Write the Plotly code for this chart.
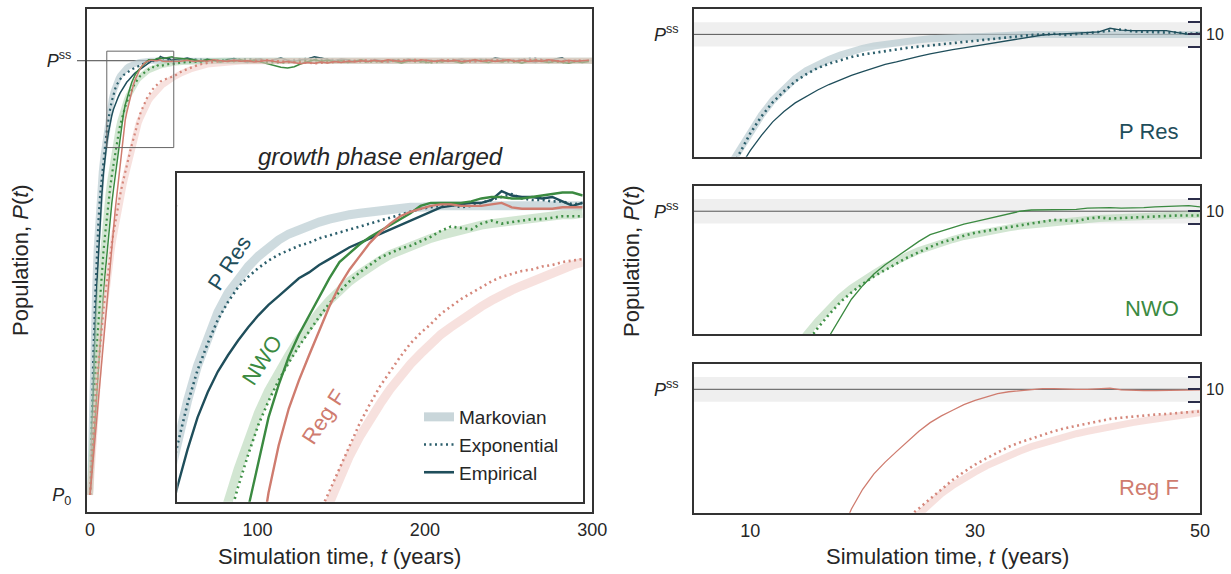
import plotly.graph_objects as go

# ---------------------------------------------------------------- data
PSS = 1.0      # steady-state population (normalised)
P0 = 0.0       # initial population (normalised)
BAND = 0.02    # tolerance band around P^ss (right panels)

SERIES = ["P Res", "NWO", "Reg F"]

T_GROW = list(range(0, 51))                 # yearly, growth phase
T_TAIL_E = list(range(54, 300, 4))          # empirical tail
T_TAIL_X = list(range(55, 300, 10))         # exponential-model tail
T_TAIL_M = [55, 60, 70, 80, 90, 100, 120, 150, 200, 250, 300]  # Markovian tail

PRES_MARKOV = [0.000, 0.190, 0.350, 0.470, 0.570, 0.645, 0.700, 0.745, 0.780, 0.810,
               0.840, 0.868, 0.892, 0.912, 0.928, 0.941, 0.951, 0.959, 0.966, 0.972,
               0.977, 0.981, 0.984, 0.987, 0.989, 0.991, 0.993, 0.994, 0.995, 0.996,
               0.997, 0.998, 0.998, 0.999, 0.999, 1.000, 1.000, 1.000, 1.000, 1.000,
               1.000, 1.000, 1.000, 1.000, 1.000, 1.000, 1.000, 1.000, 1.000, 1.000,
               1.000]
PRES_EXP = [0.000, 0.180, 0.330, 0.450, 0.550, 0.630, 0.690, 0.735, 0.770, 0.805,
            0.838, 0.866, 0.889, 0.907, 0.923, 0.935, 0.945, 0.952, 0.958, 0.963,
            0.967, 0.970, 0.973, 0.975, 0.978, 0.980, 0.982, 0.984, 0.986, 0.988,
            0.990, 0.992, 0.994, 0.996, 0.998, 0.999, 1.000, 1.001, 0.999, 1.000,
            1.002, 1.004, 1.006, 1.008, 1.005, 1.004, 1.004, 1.003, 1.003, 1.001,
            1.002]
PRES_EMP = [0.000, 0.140, 0.270, 0.380, 0.480, 0.560, 0.630, 0.690, 0.740, 0.780,
            0.810, 0.835, 0.857, 0.874, 0.888, 0.899, 0.909, 0.918, 0.926, 0.933,
            0.939, 0.945, 0.951, 0.955, 0.960, 0.964, 0.968, 0.972, 0.975, 0.978,
            0.981, 0.984, 0.987, 0.990, 0.993, 0.996, 0.999, 1.000, 1.001, 1.002,
            1.002, 1.004, 1.010, 1.007, 1.006, 1.006, 1.005, 1.006, 1.003, 1.000,
            1.002]

NWO_MARKOV = [0.000, 0.100, 0.190, 0.275, 0.350, 0.420, 0.480, 0.530, 0.580, 0.620,
              0.660, 0.692, 0.722, 0.750, 0.776, 0.800, 0.822, 0.842, 0.860, 0.875,
              0.888, 0.899, 0.910, 0.920, 0.928, 0.936, 0.943, 0.949, 0.954, 0.959,
              0.963, 0.967, 0.970, 0.973, 0.976, 0.978, 0.980, 0.982, 0.984, 0.986,
              0.987, 0.988, 0.989, 0.990, 0.991, 0.992, 0.993, 0.993, 0.994, 0.994,
              0.995]
NWO_EXP = [0.000, 0.090, 0.175, 0.255, 0.330, 0.395, 0.455, 0.510, 0.560, 0.600,
           0.640, 0.675, 0.707, 0.736, 0.762, 0.786, 0.810, 0.832, 0.852, 0.868,
           0.882, 0.894, 0.905, 0.915, 0.925, 0.934, 0.942, 0.949, 0.955, 0.960,
           0.965, 0.968, 0.971, 0.973, 0.976, 0.979, 0.983, 0.986, 0.985, 0.984,
           0.988, 0.990, 0.988, 0.989, 0.990, 0.991, 0.991, 0.992, 0.993, 0.993,
           0.993]
NWO_EMP = [0.000, 0.060, 0.120, 0.180, 0.240, 0.300, 0.355, 0.410, 0.460, 0.510,
           0.555, 0.598, 0.637, 0.672, 0.704, 0.735, 0.765, 0.795, 0.826, 0.857,
           0.879, 0.898, 0.913, 0.926, 0.939, 0.951, 0.962, 0.968, 0.974, 0.979,
           0.983, 0.987, 0.991, 0.995, 1.000, 1.002, 1.002, 1.002, 1.002, 1.003,
           1.005, 1.006, 1.006, 1.005, 1.005, 1.006, 1.007, 1.008, 1.009, 1.009,
           1.007]

REGF_MARKOV = [0.000, 0.065, 0.127, 0.186, 0.240, 0.290, 0.336, 0.377, 0.414, 0.449,
               0.481, 0.511, 0.540, 0.566, 0.591, 0.614, 0.636, 0.657, 0.677, 0.696,
               0.714, 0.731, 0.748, 0.764, 0.781, 0.799, 0.816, 0.831, 0.844, 0.856,
               0.866, 0.876, 0.885, 0.893, 0.900, 0.907, 0.913, 0.918, 0.923, 0.928,
               0.932, 0.936, 0.940, 0.943, 0.946, 0.949, 0.952, 0.955, 0.958, 0.960,
               0.962]
REGF_EXP = [0.000, 0.070, 0.135, 0.195, 0.250, 0.300, 0.345, 0.387, 0.425, 0.460,
            0.492, 0.522, 0.551, 0.578, 0.604, 0.628, 0.650, 0.671, 0.691, 0.710,
            0.728, 0.745, 0.761, 0.777, 0.792, 0.807, 0.822, 0.838, 0.853, 0.866,
            0.878, 0.888, 0.898, 0.907, 0.914, 0.920, 0.927, 0.932, 0.937, 0.941,
            0.945, 0.949, 0.952, 0.954, 0.956, 0.957, 0.959, 0.960, 0.962, 0.963,
            0.964]
REGF_EMP = [0.000, 0.040, 0.085, 0.130, 0.175, 0.220, 0.265, 0.310, 0.355, 0.400,
            0.445, 0.490, 0.535, 0.575, 0.615, 0.655, 0.690, 0.725, 0.763, 0.806,
            0.838, 0.863, 0.882, 0.899, 0.916, 0.932, 0.946, 0.957, 0.966, 0.975,
            0.982, 0.988, 0.993, 0.996, 0.998, 1.000, 1.001, 1.001, 1.000, 1.000,
            1.000, 1.001, 1.002, 0.999, 0.998, 0.998, 0.998, 0.998, 0.999, 0.999,
            0.999]

# tails (t > 50)
PRES_EMP_TAIL = [1.003, 1.006, 1.002, 0.998, 1.004, 1.001, 0.997, 1.003, 1.005, 1.000,
                 0.996, 1.002, 1.004, 0.999, 1.003, 1.006, 1.001, 0.998, 1.002, 1.004,
                 1.009, 1.006, 1.003, 1.000, 1.004, 1.002, 0.998, 1.001, 0.997, 1.003,
                 1.000, 0.996, 1.002, 0.999, 1.004, 1.001, 0.997, 1.002, 0.999, 1.003,
                 0.998, 1.001, 1.004, 1.000, 0.997, 1.003, 1.001, 1.006, 1.004, 1.002,
                 0.999, 1.003, 1.000, 0.996, 1.002, 0.999, 1.004, 1.007, 0.998, 1.001,
                 0.997, 1.002]
NWO_EMP_TAIL = [1.006, 1.004, 1.002, 0.999, 1.003, 1.000, 0.997, 1.001, 0.998, 1.002,
                0.999, 1.001, 0.997, 0.994, 0.990, 0.985, 0.983, 0.986, 0.993, 0.998,
                1.002, 0.999, 1.001, 0.997, 1.000, 0.996, 0.999, 1.002, 0.998, 1.000,
                0.997, 1.001, 0.998, 0.995, 0.999, 1.002, 0.998, 0.996, 1.000, 0.997,
                1.001, 0.998, 0.995, 0.999, 1.002, 0.998, 0.996, 1.000, 0.997, 1.001,
                0.998, 0.995, 0.999, 1.002, 0.998, 0.996, 0.999, 0.997, 0.994, 0.998,
                0.996, 0.998]
REGF_EMP_TAIL = [0.999, 1.001, 0.998, 1.000, 0.999, 1.002, 1.000, 0.998, 1.001, 0.999,
                 1.000, 0.997, 0.999, 1.001, 0.998, 0.996, 0.998, 0.995, 0.993, 0.996,
                 0.994, 0.997, 0.995, 0.998, 0.996, 0.999, 0.997, 1.000, 0.998, 1.001,
                 0.999, 1.002, 1.000, 0.998, 1.001, 0.999, 1.002, 1.000, 0.998, 1.001,
                 0.999, 1.001, 0.998, 1.000, 1.002, 0.999, 1.001, 0.998, 1.000, 1.002,
                 0.999, 1.001, 0.998, 1.000, 0.999, 1.002, 1.000, 0.998, 1.001, 0.999,
                 1.000, 1.001]
PRES_EXP_TAIL = [1.001, 1.003, 0.999, 1.002, 1.004, 1.000, 0.998, 1.003, 1.006, 1.002,
                 0.999, 1.001, 0.998, 1.002, 1.000, 0.997, 1.002, 1.001, 1.003, 0.999,
                 1.002, 1.005, 1.000, 0.998, 1.001]
NWO_EXP_TAIL = [0.996, 0.998, 1.000, 0.999, 1.001, 0.997, 0.995, 0.999, 1.001, 0.998,
                1.000, 0.997, 0.999, 1.001, 0.998, 0.996, 1.000, 0.998, 1.001, 0.999,
                0.997, 1.000, 0.998, 0.996, 0.999]
REGF_EXP_TAIL = [0.976, 0.991, 0.998, 1.000, 0.999, 1.001, 0.998, 0.996, 0.994, 0.997,
                 0.999, 1.001, 0.998, 1.000, 1.002, 0.999, 1.001, 0.998, 1.000, 1.001,
                 0.999, 1.002, 1.000, 0.998, 1.001]
PRES_MARKOV_TAIL = [1.000, 1.000, 1.000, 1.000, 1.000, 1.000, 1.000, 1.000, 1.000, 1.000, 1.000]
NWO_MARKOV_TAIL = [0.997, 0.998, 0.9995, 1.000, 1.000, 1.000, 1.000, 1.000, 1.000, 1.000, 1.000]
REGF_MARKOV_TAIL = [0.972, 0.980, 0.991, 0.996, 0.998, 0.999, 1.000, 1.000, 1.000, 1.000, 1.000]

MAIN_X_TICKS = [0, 100, 200, 300]
ZOOM_X_TICKS = [10, 30, 50]
BAND_LABEL = "10"

# ---------------------------------------------------------------- view / style
MAIN_T = [-2, 300]
MAIN_P = [-0.0385, 1.1184]
INSET_T = [10, 50]
INSET_P = [0.8, 1.022]
ZOOM_T = [5, 50]
ZOOM_P = [0.8, 1.041]

FONT = "Liberation Sans, Arial, sans-serif"
TXT = "#262626"
FRAME = "#333333"
COL = {"P Res": "#1f4e5b", "NWO": "#3b8a41", "Reg F": "#cf7c6f"}
DOT = {"P Res": "#2c5f6c", "NWO": "#3f9046", "Reg F": "#d5877b"}
LIGHT = {"P Res": "rgba(180,200,206,0.65)", "NWO": "rgba(180,214,180,0.6)",
         "Reg F": "rgba(240,200,194,0.55)"}

DATA = {
    "P Res": dict(m=(PRES_MARKOV, PRES_MARKOV_TAIL), x=(PRES_EXP, PRES_EXP_TAIL),
                  e=(PRES_EMP, PRES_EMP_TAIL)),
    "NWO": dict(m=(NWO_MARKOV, NWO_MARKOV_TAIL), x=(NWO_EXP, NWO_EXP_TAIL),
                e=(NWO_EMP, NWO_EMP_TAIL)),
    "Reg F": dict(m=(REGF_MARKOV, REGF_MARKOV_TAIL), x=(REGF_EXP, REGF_EXP_TAIL),
                  e=(REGF_EMP, REGF_EMP_TAIL)),
}
TAIL_T = {"m": T_TAIL_M, "x": T_TAIL_X, "e": T_TAIL_E}

for name, d in DATA.items():
    for k, (g, tl) in d.items():
        assert len(g) == len(T_GROW), (name, k, len(g))
        assert len(tl) == len(TAIL_T[k]), (name, k, len(tl))

fig = go.Figure()


def add_series(name, xa, ya, widths, full=True):
    d = DATA[name]
    for k in ["m", "x", "e"]:
        g, tl = d[k]
        t = T_GROW + (TAIL_T[k] if full else [])
        v = g + (tl if full else [])
        if k == "m":
            line = dict(color=LIGHT[name], width=widths[0])
        elif k == "x":
            line = dict(color=DOT[name], width=widths[1], dash="2px,3.5px")
        else:
            line = dict(color=COL[name], width=widths[2])
        fig.add_trace(go.Scatter(x=t, y=v, mode="lines", line=line, xaxis=xa, yaxis=ya,
                                 showlegend=False, hoverinfo="skip"))


# main panel
for s in SERIES:
    add_series(s, "x", "y", (6, 2.2, 1.5))
# inset
for s in SERIES:
    add_series(s, "x2", "y2", (9, 2.6, 2.4), full=False)
# right panels
for i, s in enumerate(SERIES):
    add_series(s, "x%d" % (3 + i), "y%d" % (3 + i), (7, 2.6, 1.3), full=False)

# legend entries (P Res colours)
for lab, line in [("Markovian", dict(color="#c9d6da", width=9)),
                  ("Exponential", dict(color=DOT["P Res"], width=2.6, dash="2px,3.5px")),
                  ("Empirical", dict(color=COL["P Res"], width=2.6))]:
    fig.add_trace(go.Scatter(x=[None], y=[None], mode="lines", line=line, name=lab,
                             xaxis="x2", yaxis="y2", showlegend=True, legendgroup=lab))

W, H = 1231, 574


def px(xl, xr):
    return [xl / W, xr / W]


def py(top, bottom):
    return [1 - bottom / H, 1 - top / H]


frame = dict(showline=True, mirror=True, linecolor=FRAME, linewidth=1.5,
             showgrid=False, zeroline=False, automargin=False)
tickfont = dict(family=FONT, size=18, color=TXT)
PSS_TXT = "<i>P</i><sup>ss</sup>"

layout = dict(
    width=W, height=H, autosize=False,
    margin=dict(l=0, r=0, t=0, b=0, autoexpand=False),
    paper_bgcolor="white", plot_bgcolor="white",
    font=dict(family=FONT, color=TXT),
    xaxis=dict(domain=px(86.7, 592.3), range=MAIN_T, tickvals=MAIN_X_TICKS,
               ticks="outside", ticklen=1, tickcolor="rgba(0,0,0,0)",
               tickfont=tickfont, anchor="y", **frame),
    yaxis=dict(domain=py(9.3, 511.7), range=MAIN_P, tickvals=[P0, PSS],
               ticktext=["<i>P</i><sub>0</sub>", PSS_TXT], ticks="outside", ticklen=10,
               tickcolor="rgba(0,0,0,0)", tickfont=tickfont, anchor="x", **frame),
    xaxis2=dict(domain=px(177.3, 582.7), range=INSET_T, showticklabels=False,
                anchor="y2", **frame),
    yaxis2=dict(domain=py(173.3, 501.7), range=INSET_P, showticklabels=False,
                anchor="x2", **frame),
)

panel_y = [(9.3, 156.7), (186.0, 334.3), (364.0, 512.7)]
for i, (top, bot) in enumerate(panel_y):
    n = 3 + i
    last = i == 2
    layout["xaxis%d" % n] = dict(domain=px(694, 1200), range=ZOOM_T, anchor="y%d" % n,
                                 tickvals=ZOOM_X_TICKS, showticklabels=last,
                                 ticks="outside", ticklen=1, tickcolor="rgba(0,0,0,0)",
                                 tickfont=tickfont, **frame)
    layout["yaxis%d" % n] = dict(domain=py(top, bot), range=ZOOM_P, anchor="x%d" % n,
                                 tickvals=[PSS], ticktext=[PSS_TXT], ticks="outside",
                                 ticklen=10, tickcolor="rgba(0,0,0,0)", tickfont=tickfont,
                                 **frame)
    layout["yaxis%d" % (n + 3)] = dict(
        overlaying="y%d" % n, anchor="x%d" % n, side="right", range=ZOOM_P,
        tickvals=[PSS - BAND, PSS, PSS + BAND], ticktext=["", BAND_LABEL, ""],
        ticks="inside", ticklen=12, tickwidth=1.5, tickcolor="#2b2d4a",
        ticklabelstandoff=5,
        tickfont=dict(family=FONT, size=16, color=TXT), automargin=False,
        showline=False, showgrid=False, zeroline=False)
    fig.add_trace(go.Scatter(x=[None], y=[None], xaxis="x%d" % n, yaxis="y%d" % (n + 3),
                             showlegend=False, hoverinfo="skip"))

shapes = []
# main: P^ss line and enlarged-region box
shapes.append(dict(type="line", xref="paper", x0=77 / W, x1=592.3 / W, yref="y",
                   y0=PSS, y1=PSS, line=dict(color="#444", width=1), layer="below"))
shapes.append(dict(type="rect", xref="x", yref="y", x0=INSET_T[0], x1=INSET_T[1],
                   y0=INSET_P[0], y1=INSET_P[1], line=dict(color="#666", width=1)))
shapes.append(dict(type="line", xref="x2 domain", x0=0, x1=1, yref="y2", y0=PSS, y1=PSS,
                   line=dict(color="#444", width=1), layer="below"))
for i in range(3):
    n = 3 + i
    shapes.append(dict(type="rect", xref="x%d domain" % n, x0=0, x1=1, yref="y%d" % n,
                       y0=PSS - BAND, y1=PSS + BAND, fillcolor="#efefef",
                       line=dict(width=0), layer="below"))
    shapes.append(dict(type="line", xref="x%d domain" % n, x0=0, x1=1, yref="y%d" % n,
                       y0=PSS, y1=PSS, line=dict(color="#555", width=1), layer="below"))
layout["shapes"] = shapes

ann = []
big = dict(family=FONT, size=22, color=TXT)
C = dict(xanchor="center", yanchor="middle", showarrow=False)
ann.append(dict(text="Population, <i>P</i>(<i>t</i>)", xref="paper", yref="paper",
                x=20 / W, y=1 - 260 / H, textangle=-90, font=big, **C))
ann.append(dict(text="Population, <i>P</i>(<i>t</i>)", xref="paper", yref="paper",
                x=632 / W, y=1 - 261 / H, textangle=-90, font=big, **C))
ann.append(dict(text="Simulation time, <i>t</i> (years)", xref="paper", yref="paper",
                x=339.5 / W, y=1 - 556 / H, font=big, **C))
ann.append(dict(text="Simulation time, <i>t</i> (years)", xref="paper", yref="paper",
                x=947 / W, y=1 - 556 / H, font=big, **C))
ann.append(dict(text="<i>growth phase enlarged</i>", xref="paper", yref="paper",
                x=380.5 / W, y=1 - 157 / H, font=dict(family=FONT, size=24, color=TXT),
                **C))
# inset curve labels
for s, (xd, yd) in zip(SERIES, [(0.13, 0.727), (0.208, 0.431), (0.362, 0.258)]):
    ann.append(dict(text=s, xref="x2 domain", yref="y2 domain", x=xd, y=yd,
                    textangle=-57, font=dict(family=FONT, size=22, color=COL[s]), **C))
# right panel labels
for i, s in enumerate(SERIES):
    n = 3 + i
    ann.append(dict(text=s, xref="x%d domain" % n, yref="y%d domain" % n, x=0.962,
                    y=0.172, xanchor="right", yanchor="middle", showarrow=False,
                    font=dict(family=FONT, size=22, color=COL[s])))
layout["annotations"] = ann

layout["legend"] = dict(x=419 / W, y=1 - 398 / H, xanchor="left", yanchor="top",
                        bgcolor="rgba(0,0,0,0)", font=dict(family=FONT, size=19, color=TXT),
                        tracegroupgap=0)

fig.update_layout(**layout)
fig.write_html("out.html", config={"displayModeBar": False},
               post_script="document.body.style.margin='0px';")
